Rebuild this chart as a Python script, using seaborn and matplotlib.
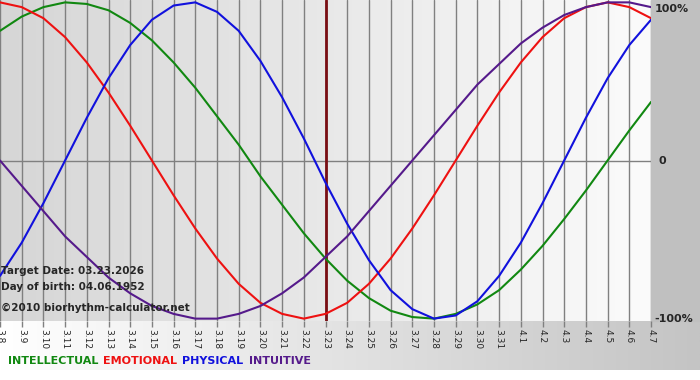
import numpy as np
import pandas as pd
import matplotlib
matplotlib.use('Agg')
import matplotlib.pyplot as plt
import seaborn as sns

# days shown on the chart (month.day), 2026-03-08 .. 2026-04-07
days = ['3.8', '3.9', '3.10', '3.11', '3.12', '3.13', '3.14', '3.15', '3.16', '3.17',
        '3.18', '3.19', '3.20', '3.21', '3.22', '3.23', '3.24', '3.25', '3.26', '3.27',
        '3.28', '3.29', '3.30', '3.31', '4.1', '4.2', '4.3', '4.4', '4.5', '4.6', '4.7']

# cycle values (-1 .. 1) read per day
intellectual = [0.82, 0.91, 0.97, 1.00, 0.99, 0.95, 0.87, 0.76, 0.62, 0.46,
                0.28, 0.10, -0.10, -0.28, -0.46, -0.62, -0.76, -0.87, -0.95, -0.99,
                -1.00, -0.97, -0.91, -0.82, -0.69, -0.54, -0.37, -0.19, 0.00, 0.19, 0.37]
emotional = [1.00, 0.97, 0.90, 0.78, 0.62, 0.43, 0.22, 0.00, -0.22, -0.43,
             -0.62, -0.78, -0.90, -0.97, -1.00, -0.97, -0.90, -0.78, -0.62, -0.43,
             -0.22, 0.00, 0.22, 0.43, 0.62, 0.78, 0.90, 0.97, 1.00, 0.97, 0.90]
physical = [-0.73, -0.52, -0.27, 0.00, 0.27, 0.52, 0.73, 0.89, 0.98, 1.00,
            0.94, 0.82, 0.63, 0.40, 0.14, -0.14, -0.40, -0.63, -0.82, -0.94,
            -1.00, -0.98, -0.89, -0.73, -0.52, -0.27, 0.00, 0.27, 0.52, 0.73, 0.89]
intuitive = [0.00, -0.16, -0.32, -0.48, -0.61, -0.74, -0.84, -0.92, -0.97, -1.00,
             -1.00, -0.97, -0.92, -0.84, -0.74, -0.61, -0.48, -0.32, -0.16, 0.00,
             0.16, 0.32, 0.48, 0.61, 0.74, 0.84, 0.92, 0.97, 1.00, 1.00, 0.97]

series_names = ['INTELLECTUAL', 'EMOTIONAL', 'PHYSICAL', 'INTUITIVE']
colors = ['#118811', '#ee1111', '#1111dd', '#551a8b']
target_day = '3.23'

df = pd.DataFrame({
    'day': list(range(len(days))) * 4,
    'value': intellectual + emotional + physical + intuitive,
    'cycle': sum([[n] * len(days) for n in series_names], []),
})

sns.set_style('white')
plt.rcParams['font.family'] = ['DejaVu Sans']

fig = plt.figure(figsize=(7, 3.8), dpi=100)
fig.patch.set_facecolor('white')

# background gradients (figure area)
bg = fig.add_axes([0, 0, 1, 1], zorder=-10)
bg.axis('off')
grad = np.linspace(0, 1, 256).reshape(1, -1)
bg.imshow(grad, cmap=plt.matplotlib.colors.LinearSegmentedColormap.from_list('b', ['#ffffff', '#c4c4c4']),
          extent=[0, 1, 10 / 380, 59 / 380], aspect='auto', transform=bg.transAxes)
bg.add_patch(plt.Rectangle((651 / 700, 59 / 380), 49 / 700, 321 / 380, color='#c0c0c0',
                           transform=bg.transAxes))
bg.set_xlim(0, 1)
bg.set_ylim(0, 1)

ax = fig.add_axes([0, 59 / 380, 651 / 700, 321 / 380])
n = len(days) - 1
ax.imshow(grad, cmap=plt.matplotlib.colors.LinearSegmentedColormap.from_list('p', ['#d6d6d6', '#fbfbfb']),
          extent=[0, n, -1.015, 1.015], aspect='auto', zorder=0)

for i in range(len(days)):
    ax.axvline(i, color='#808080', lw=1, zorder=1)
ax.axhline(0, color='#808080', lw=1, zorder=1)
ax.axvline(days.index(target_day), color='#7a0f14', lw=2, zorder=1)

sns.lineplot(data=df, x='day', y='value', hue='cycle', palette=colors,
             hue_order=series_names, linewidth=1.5, legend=False, ax=ax, zorder=3)

ax.set_xlim(0, n)
ax.set_ylim(-1.015, 1.015)
ax.set_xticks(range(len(days)))
ax.set_xticklabels(days, rotation=-90, fontsize=6.5)
ax.tick_params(axis='x', direction='out', length=4, width=1, color='#808080', pad=2, bottom=True)
ax.set_yticks([])
ax.set_xlabel('')
ax.set_ylabel('')
for s in ax.spines.values():
    s.set_visible(False)

# right-hand scale labels
for val, lab in [(0.955, '100%'), (0, '0'), (-1, '-100%')]:
    ax.text(n + 0.15 if lab != '0' else n + 0.35, val, lab, fontsize=8, fontweight='bold',
            va='center', ha='left', clip_on=False)

ax.text(0.05, -0.70, 'Target Date: 03.23.2026', fontsize=7.5, fontweight='bold', va='center')
ax.text(0.05, -0.80, 'Day of birth: 04.06.1952', fontsize=7.5, fontweight='bold', va='center')
ax.text(0.05, -0.93, '\u00a92010 biorhythm-calculator.net', fontsize=7.5, fontweight='bold', va='center')

# coloured legend words below the chart
x = 8 / 700
for name, c in zip(series_names, colors):
    t = fig.text(x, 19 / 380, name, color=c, fontsize=8, fontweight='bold', va='center')
    fig.canvas.draw()
    w = t.get_window_extent().width
    x += (w + 5) / 700

fig.savefig('out.png', dpi=100, facecolor=fig.get_facecolor())
